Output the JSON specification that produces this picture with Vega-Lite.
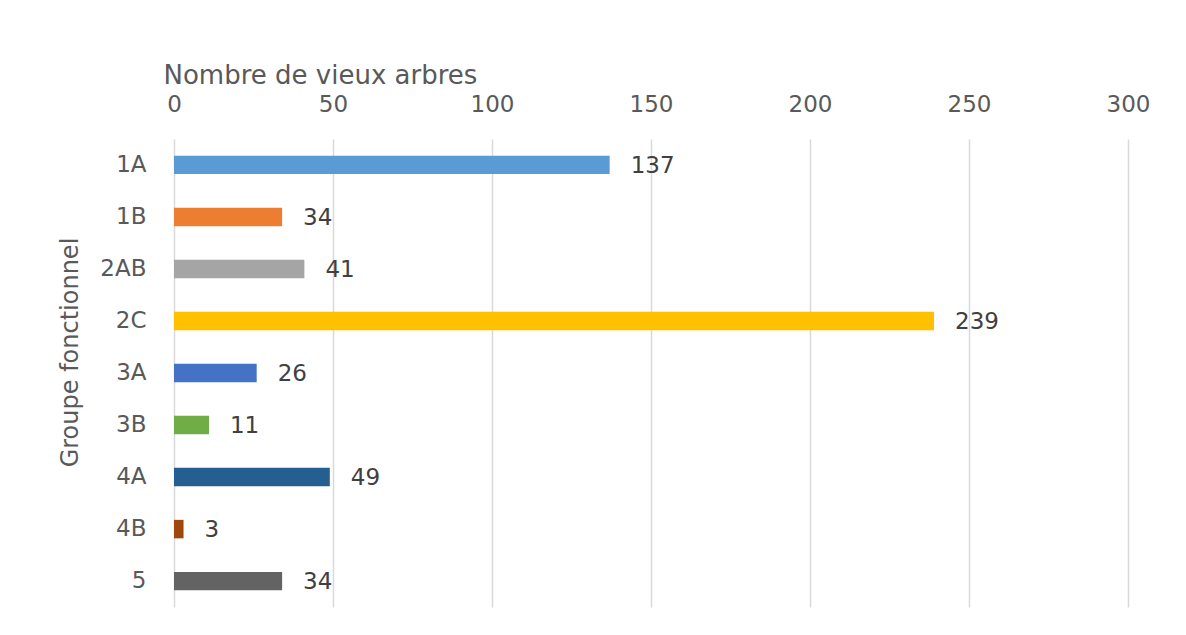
{
  "$schema": "https://vega.github.io/schema/vega-lite/v6.json",
  "width": 954,
  "height": 468,
  "autosize": "none",
  "padding": {"left": 174, "top": 139, "right": 58, "bottom": 28},
  "background": "white",
  "config": {
    "view": {"stroke": null},
    "font": "DejaVu Sans"
  },
  "data": {
    "values": [
      {"groupe": "1A", "n": 137, "color": "#5B9BD5"},
      {"groupe": "1B", "n": 34, "color": "#ED7D31"},
      {"groupe": "2AB", "n": 41, "color": "#A5A5A5"},
      {"groupe": "2C", "n": 239, "color": "#FFC000"},
      {"groupe": "3A", "n": 26, "color": "#4472C4"},
      {"groupe": "3B", "n": 11, "color": "#70AD47"},
      {"groupe": "4A", "n": 49, "color": "#255E91"},
      {"groupe": "4B", "n": 3, "color": "#9E480E"},
      {"groupe": "5", "n": 34, "color": "#636363"}
    ]
  },
  "encoding": {
    "y": {
      "field": "groupe",
      "type": "nominal",
      "sort": null,
      "scale": {"paddingInner": 0.645, "paddingOuter": 0.32},
      "axis": {
        "title": "Groupe fonctionnel",
        "titleFont": "DejaVu Sans",
        "titleFontSize": 24,
        "titleFontWeight": "normal",
        "titleColor": "#595959",
        "titleAngle": -90,
        "titleX": -104,
        "titleY": 213,
        "titleAlign": "center",
        "titleBaseline": "middle",
        "labelFont": "DejaVu Sans",
        "labelFontSize": 23,
        "labelColor": "#595959",
        "labelPadding": 28,
        "ticks": false,
        "domain": false,
        "grid": false
      }
    },
    "x": {
      "field": "n",
      "type": "quantitative",
      "scale": {"domain": [0, 300], "nice": false},
      "axis": {
        "orient": "top",
        "values": [0, 50, 100, 150, 200, 250, 300],
        "title": "Nombre de vieux arbres",
        "titleFont": "DejaVu Sans",
        "titleFontSize": 26,
        "titleFontWeight": "normal",
        "titleColor": "#595959",
        "titleAlign": "left",
        "titleBaseline": "alphabetic",
        "titleX": -11,
        "titleY": -56,
        "labelFont": "DejaVu Sans",
        "labelFontSize": 23,
        "labelColor": "#595959",
        "labelPadding": 23,
        "labelFlush": false,
        "labelBound": false,
        "labelOverlap": false,
        "ticks": false,
        "domain": false,
        "grid": true,
        "gridColor": "#D9D9D9",
        "gridWidth": 1.5
      }
    }
  },
  "layer": [
    {
      "mark": {"type": "bar"},
      "encoding": {
        "color": {"field": "color", "type": "nominal", "scale": null, "legend": null}
      }
    },
    {
      "mark": {"type": "text", "align": "left", "baseline": "middle", "dx": 21, "dy": 1, "fontSize": 23, "font": "DejaVu Sans", "color": "#404040"},
      "encoding": {
        "text": {"field": "n", "type": "quantitative"}
      }
    }
  ]
}
